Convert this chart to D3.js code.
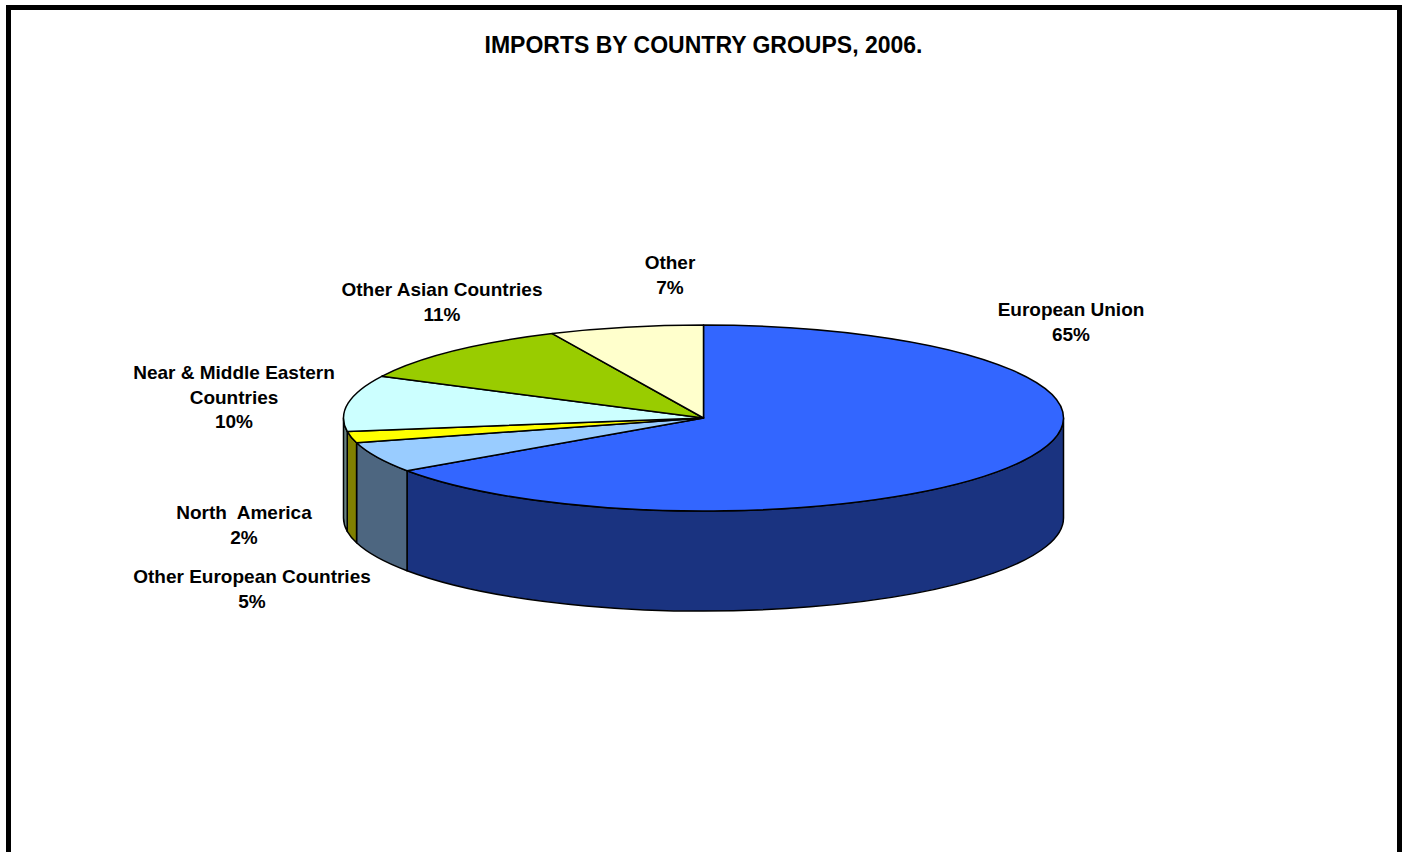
<!DOCTYPE html>
<html>
<head>
<meta charset="utf-8">
<script src="https://cdn.jsdelivr.net/npm/d3@7"></script>
<style>
  html, body { margin: 0; padding: 0; background: #fff; }
  svg { display: block; }
  text { font-family: "Liberation Sans", Arial, sans-serif; font-weight: bold; fill: #000; }
</style>
</head>
<body>
<svg id="chart" width="1404" height="852"></svg>
<script>
// ---- data ----
const categories = ["European Union", "Other European Countries", "North  America",
                    "Near & Middle Eastern Countries", "Other Asian Countries", "Other"];
const shares = [65.4, 5.3, 2.0, 9.7, 10.7, 6.9];
const labelLines = [
  ["European Union"],
  ["Other European Countries"],
  ["North  America"],
  ["Near & Middle Eastern", "Countries"],
  ["Other Asian Countries"],
  ["Other"]
];
const title = "IMPORTS BY COUNTRY GROUPS, 2006.";

// ---- styles / layout ----
const topColors  = ["#3366FF", "#99CCFF", "#FFFF00", "#CCFFFF", "#99CC00", "#FFFFCC"];
const sideColors = ["#1A3380", "#4D6680", "#808000", "#668080", "#4D6600", "#808066"];
const labelAnchors = [[1071, 316], [252, 583], [244, 519], [234, 379], [442, 296], [670, 269]];

const W = 1404, H = 852;
const cx = 703.5, cy = 418, rx = 360, ry = 93, depth = 100;

const svg = d3.select("#chart");

// frame
svg.append("rect")
  .attr("x", 8.5).attr("y", 7.5).attr("width", 1391).attr("height", 900)
  .attr("fill", "#fff").attr("stroke", "#000").attr("stroke-width", 5);

// title
svg.append("text")
  .attr("x", 703.5).attr("y", 53)
  .attr("text-anchor", "middle")
  .style("font-size", "23px")
  .text(title);

const pie = d3.pie().sort(null).value(d => d)
  .startAngle(0).endAngle(2 * Math.PI);
const arcs = pie(shares);

const px = a => cx + rx * Math.sin(a);
const py = a => cy - ry * Math.cos(a);

function topPath(d) {
  const a0 = d.startAngle, a1 = d.endAngle;
  const large = (a1 - a0) > Math.PI ? 1 : 0;
  return `M${cx},${cy}L${px(a0)},${py(a0)}A${rx},${ry} 0 ${large} 1 ${px(a1)},${py(a1)}Z`;
}
function sidePath(d) {
  const a0 = Math.max(d.startAngle, Math.PI / 2);
  const a1 = Math.min(d.endAngle, 3 * Math.PI / 2);
  if (a1 <= a0) return null;
  const large = (a1 - a0) > Math.PI ? 1 : 0;
  return `M${px(a0)},${py(a0)}A${rx},${ry} 0 ${large} 1 ${px(a1)},${py(a1)}` +
         `L${px(a1)},${py(a1) + depth}A${rx},${ry} 0 ${large} 0 ${px(a0)},${py(a0) + depth}Z`;
}

const g = svg.append("g");
g.selectAll("path.side")
  .data(arcs.filter(d => sidePath(d)))
  .join("path")
  .attr("class", "side")
  .attr("d", sidePath)
  .attr("fill", d => sideColors[d.index])
  .attr("stroke", "#000").attr("stroke-width", 1.5).attr("stroke-linejoin", "round");

g.selectAll("path.top")
  .data(arcs)
  .join("path")
  .attr("class", "top")
  .attr("d", topPath)
  .attr("fill", d => topColors[d.index])
  .attr("stroke", "#000").attr("stroke-width", 1.5).attr("stroke-linejoin", "round");

// labels
const lg = svg.append("g");
arcs.forEach((d, i) => {
  const lines = labelLines[i].concat([Math.round(shares[i]) + "%"]);
  const t = lg.append("text")
    .attr("text-anchor", "middle")
    .attr("x", labelAnchors[i][0]).attr("y", labelAnchors[i][1])
    .style("font-size", "19px")
    .style("white-space", "pre");
  lines.forEach((ln, k) => {
    t.append("tspan").attr("x", labelAnchors[i][0]).attr("dy", k === 0 ? 0 : 24.5).text(ln);
  });
});
</script>
</body>
</html>
